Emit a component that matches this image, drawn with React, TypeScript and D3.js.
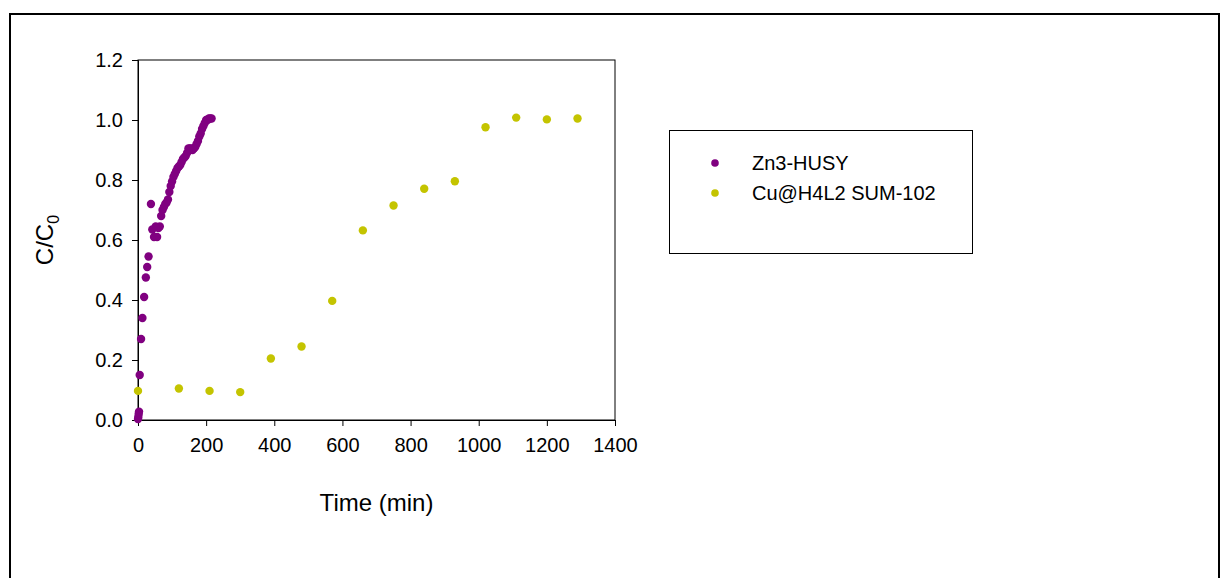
import { useEffect, useRef } from 'react';
import * as d3 from 'd3';

// Zn3-HUSY: [time (min), C/C0]
const znTime = [0, 1, 2, 3, 5, 9, 13, 18, 23, 27, 31, 38, 42, 47, 52, 56, 60, 64, 68, 72, 76, 80, 84, 88, 92, 96, 100, 104, 108, 112, 116, 120, 124, 128, 132, 136, 140, 144, 148, 152, 156, 160, 164, 168, 172, 176, 180, 184, 188, 192, 196, 200, 204, 208, 212, 216];
const znValue = [0.003, 0.01, 0.02, 0.028, 0.15, 0.27, 0.34, 0.41, 0.475, 0.51, 0.545, 0.72, 0.635, 0.61, 0.645, 0.61, 0.64, 0.645, 0.68, 0.7, 0.71, 0.72, 0.725, 0.735, 0.76, 0.78, 0.795, 0.81, 0.82, 0.83, 0.84, 0.845, 0.85, 0.86, 0.87, 0.875, 0.88, 0.89, 0.905, 0.905, 0.905, 0.9, 0.905, 0.91, 0.92, 0.93, 0.945, 0.955, 0.97, 0.98, 0.99, 1.0, 1.0, 1.005, 1.005, 1.005];

// Cu@H4L2 SUM-102
const cuTime = [0, 120, 210, 300, 390, 480, 570, 660, 750, 840, 930, 1020, 1110, 1200, 1290];
const cuValue = [0.097, 0.105, 0.097, 0.093, 0.205, 0.245, 0.397, 0.632, 0.715, 0.771, 0.796, 0.976, 1.008, 1.002, 1.005];

const xTicks = [0, 200, 400, 600, 800, 1000, 1200, 1400];
const yTicks = [0, 0.2, 0.4, 0.6, 0.8, 1.0, 1.2];
const seriesNames = ['Zn3-HUSY', 'Cu@H4L2 SUM-102'];
const seriesColors = ['#800080', '#c4c400'];

const App = () => {
  const svgRef = useRef(null);

  useEffect(() => {
    const svg = d3.select(svgRef.current);
    svg.selectAll('*').remove();

    const font = 'Liberation Sans, Arial, sans-serif';
    const left = 138, right = 615, top = 60, bottom = 420;

    const x = d3.scaleLinear().domain([0, 1400]).range([left, right]);
    const y = d3.scaleLinear().domain([0, 1.2]).range([bottom, top]);

    // outer frame
    svg.append('rect')
      .attr('x', 10).attr('y', 14)
      .attr('width', 1209).attr('height', 600)
      .attr('fill', 'none').attr('stroke', 'black').attr('stroke-width', 2);

    // plot box
    svg.append('rect')
      .attr('x', left).attr('y', top)
      .attr('width', right - left).attr('height', bottom - top)
      .attr('fill', 'none').attr('stroke', 'black').attr('stroke-width', 1);

    const xAxis = svg.append('g')
      .attr('transform', `translate(0,${bottom})`)
      .call(d3.axisBottom(x).tickValues(xTicks).tickSize(6).tickPadding(12).tickFormat(d3.format('d')));
    const yAxis = svg.append('g')
      .attr('transform', `translate(${left},0)`)
      .call(d3.axisLeft(y).tickValues(yTicks).tickSize(6).tickPadding(9).tickFormat(d3.format('.1f')));

    [xAxis, yAxis].forEach(a => {
      a.select('.domain').attr('stroke', 'black');
      a.selectAll('line').attr('stroke', 'black');
      a.selectAll('text')
        .attr('fill', 'black')
        .style('font-family', font)
        .style('font-size', '20px');
    });

    const zn = znTime.map((t, i) => [t, znValue[i]]);
    const cu = cuTime.map((t, i) => [t, cuValue[i]]);

    svg.append('g').selectAll('circle')
      .data(cu)
      .enter()
      .append('circle')
      .attr('cx', d => x(d[0]))
      .attr('cy', d => y(d[1]))
      .attr('r', 4.2)
      .attr('fill', seriesColors[1]);

    svg.append('g').selectAll('circle')
      .data(zn)
      .enter()
      .append('circle')
      .attr('cx', d => x(d[0]))
      .attr('cy', d => y(d[1]))
      .attr('r', 4.2)
      .attr('fill', seriesColors[0]);

    // axis titles
    svg.append('text')
      .attr('x', (left + right) / 2)
      .attr('y', 511)
      .attr('text-anchor', 'middle')
      .style('font-family', font)
      .style('font-size', '24px')
      .text('Time (min)');

    const yl = svg.append('text')
      .attr('transform', `translate(53,${(top + bottom) / 2}) rotate(-90)`)
      .attr('text-anchor', 'middle')
      .style('font-family', font)
      .style('font-size', '24px');
    yl.append('tspan').text('C/C');
    yl.append('tspan').attr('dy', 6).style('font-size', '16px').text('0');

    // legend
    svg.append('rect')
      .attr('x', 669.5).attr('y', 130.5)
      .attr('width', 303).attr('height', 123)
      .attr('fill', 'none').attr('stroke', 'black').attr('stroke-width', 1);

    const legend = svg.append('g').selectAll('g')
      .data(seriesNames)
      .enter()
      .append('g')
      .attr('transform', (d, i) => `translate(0,${163 + i * 30})`);
    legend.append('circle')
      .attr('cx', 715).attr('cy', 0).attr('r', 3.8)
      .attr('fill', (d, i) => seriesColors[i]);
    legend.append('text')
      .attr('x', 752).attr('y', 7)
      .style('font-family', font)
      .style('font-size', '20px')
      .text(d => d);
  }, []);

  return (
    <svg ref={svgRef} width={1221} height={578}
      style={{ position: 'absolute', left: 0, top: 0, background: 'white' }} />
  );
};

export default App;
